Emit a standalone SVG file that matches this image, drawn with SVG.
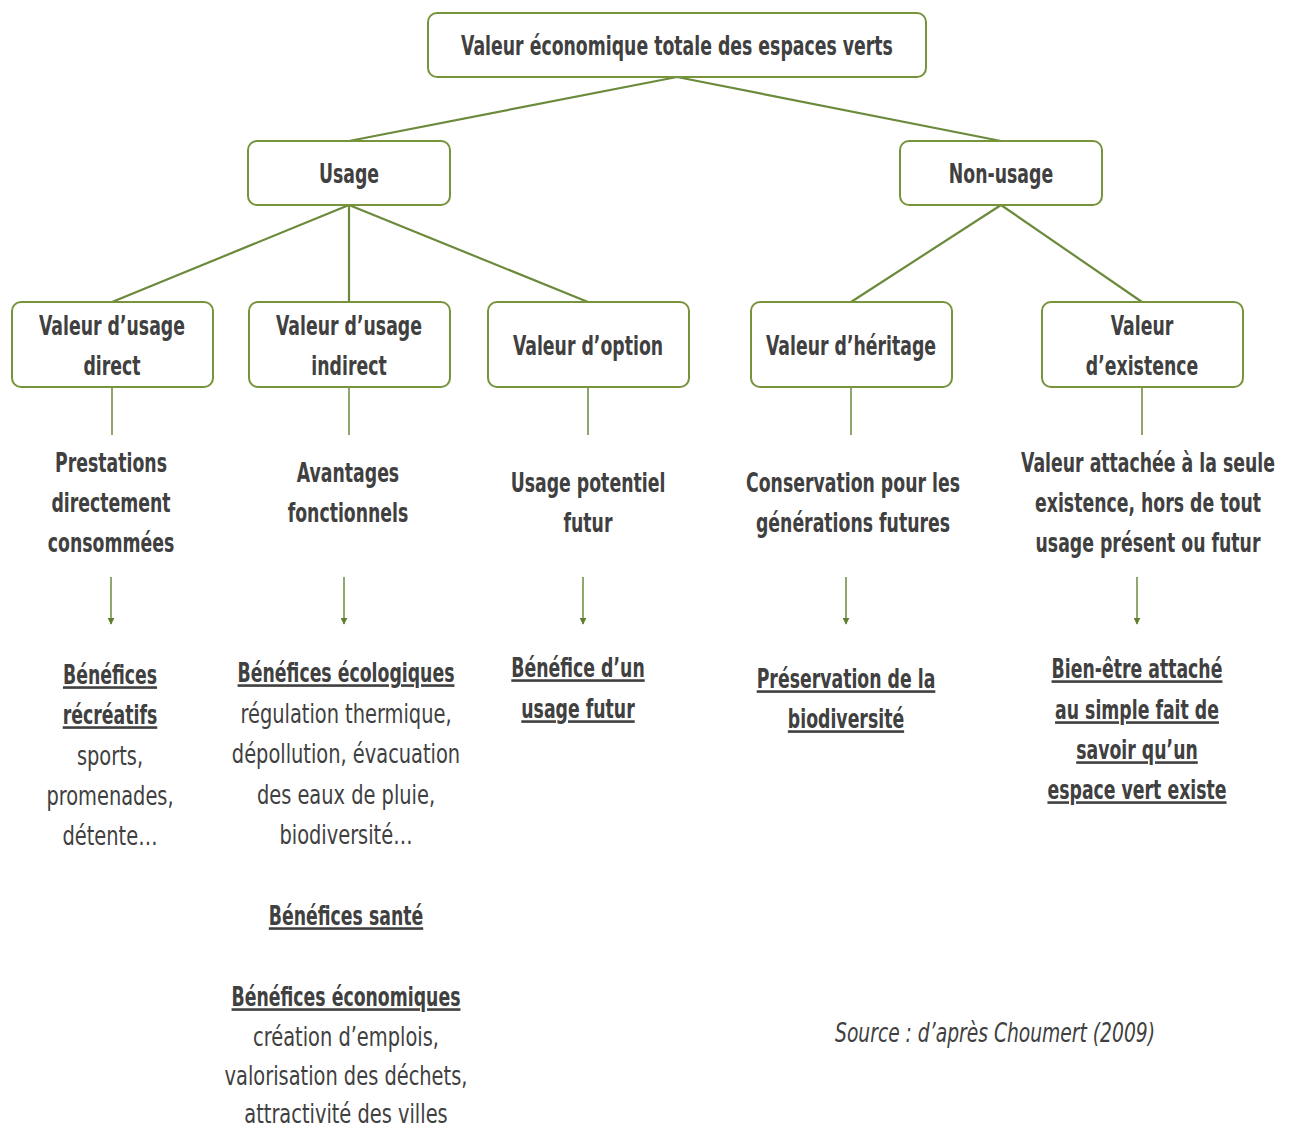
<svg xmlns="http://www.w3.org/2000/svg" width="1290" height="1130" viewBox="0 0 1290 1130">
<style>
text{font-family:"DejaVu Sans Condensed","Liberation Sans",sans-serif;font-size:26px;fill:#404040;text-anchor:middle}
.b{font-weight:bold}
.u{font-weight:bold;text-decoration:underline}
.i{font-style:italic}
.box{fill:#fff;stroke:#77933c;stroke-width:2}
.ln{stroke:#6b8a3c;stroke-width:2.2;fill:none}
.ar{stroke:#6b8a3c;stroke-width:1.5;fill:none;marker-end:url(#ah)}
</style>
<defs>
<marker id="ah" viewBox="0 0 10 10" refX="9" refY="5" markerWidth="7" markerHeight="7" orient="auto" markerUnits="userSpaceOnUse"><path d="M0,0L10,5L0,10z" fill="#5f7f2f"/></marker>
</defs>
<rect width="1290" height="1130" fill="#fff"/>
<g id="connectors">
<path class="ln" d="M677,77L349,141M677,77L1001,141"/>
<path class="ln" d="M349,205L112,302M349,205L349,302M349,205L588,302"/>
<path class="ln" d="M1001,205L851,302M1001,205L1142,302"/>
<path class="ln" style="stroke-width:1.5" d="M112,387V435M349,387V435M588,387V435M851,387V435M1142,387V435"/>
<path class="ar" d="M111,577V624"/>
<path class="ar" d="M344,577V624"/>
<path class="ar" d="M583,577V624"/>
<path class="ar" d="M846,577V624"/>
<path class="ar" d="M1137,577V624"/>
</g>
<g id="n-total"><rect class="box" x="428" y="13" width="498" height="64" rx="9"/><g transform="translate(677,0)"><text class="b" transform="scale(0.74,1)" y="55">Valeur économique totale des espaces verts</text></g></g>
<g id="n-usage"><rect class="box" x="248" y="141" width="202" height="64" rx="9"/><g transform="translate(349,0)"><text class="b" transform="scale(0.74,1)" y="183">Usage</text></g></g>
<g id="n-nonusage"><rect class="box" x="900" y="141" width="202" height="64" rx="9"/><g transform="translate(1001,0)"><text class="b" transform="scale(0.74,1)" y="183">Non-usage</text></g></g>
<g id="n-direct"><rect class="box" x="12" y="302" width="201" height="85" rx="9"/><g transform="translate(112,0)"><text class="b" transform="scale(0.74,1)" y="335">Valeur d’usage</text><text class="b" transform="scale(0.74,1)" y="375">direct</text></g></g>
<g id="n-indirect"><rect class="box" x="249" y="302" width="201" height="85" rx="9"/><g transform="translate(349,0)"><text class="b" transform="scale(0.74,1)" y="335">Valeur d’usage</text><text class="b" transform="scale(0.74,1)" y="375">indirect</text></g></g>
<g id="n-option"><rect class="box" x="488" y="302" width="201" height="85" rx="9"/><g transform="translate(588,0)"><text class="b" transform="scale(0.74,1)" y="355">Valeur d’option</text></g></g>
<g id="n-heritage"><rect class="box" x="751" y="302" width="201" height="85" rx="9"/><g transform="translate(851,0)"><text class="b" transform="scale(0.74,1)" y="355">Valeur d’héritage</text></g></g>
<g id="n-existence"><rect class="box" x="1042" y="302" width="201" height="85" rx="9"/><g transform="translate(1142,0)"><text class="b" transform="scale(0.74,1)" y="335">Valeur</text><text class="b" transform="scale(0.74,1)" y="375">d’existence</text></g></g>
<g id="d-direct" transform="translate(111,0)"><text class="b" transform="scale(0.74,1)" y="472">Prestations</text><text class="b" transform="scale(0.74,1)" y="512">directement</text><text class="b" transform="scale(0.74,1)" y="552">consommées</text></g>
<g id="d-indirect" transform="translate(348,0)"><text class="b" transform="scale(0.74,1)" y="482">Avantages</text><text class="b" transform="scale(0.74,1)" y="522">fonctionnels</text></g>
<g id="d-option" transform="translate(588,0)"><text class="b" transform="scale(0.74,1)" y="492">Usage potentiel</text><text class="b" transform="scale(0.74,1)" y="532">futur</text></g>
<g id="d-heritage" transform="translate(853,0)"><text class="b" transform="scale(0.74,1)" y="492">Conservation pour les</text><text class="b" transform="scale(0.74,1)" y="532">générations futures</text></g>
<g id="d-existence" transform="translate(1148,0)"><text class="b" transform="scale(0.74,1)" y="472">Valeur attachée à la seule</text><text class="b" transform="scale(0.74,1)" y="512">existence, hors de tout</text><text class="b" transform="scale(0.74,1)" y="552">usage présent ou futur</text></g>
<g id="r-direct" transform="translate(110,0)"><text class="u" transform="scale(0.74,1)" y="684">Bénéfices</text><text class="u" transform="scale(0.74,1)" y="724">récréatifs</text><text transform="scale(0.83,1)" y="765">sports,</text><text transform="scale(0.83,1)" y="805">promenades,</text><text transform="scale(0.83,1)" y="845">détente…</text></g>
<g id="r-indirect" transform="translate(346,0)"><text class="u" transform="scale(0.74,1)" y="682">Bénéfices écologiques</text><text transform="scale(0.83,1)" y="723">régulation thermique,</text><text transform="scale(0.83,1)" y="763">dépollution, évacuation</text><text transform="scale(0.83,1)" y="804">des eaux de pluie,</text><text transform="scale(0.83,1)" y="844">biodiversité…</text><text class="u" transform="scale(0.74,1)" y="925">Bénéfices santé</text><text class="u" transform="scale(0.74,1)" y="1006">Bénéfices économiques</text><text transform="scale(0.83,1)" y="1046">création d’emplois,</text><text transform="scale(0.83,1)" y="1085">valorisation des déchets,</text><text transform="scale(0.83,1)" y="1123">attractivité des villes</text></g>
<g id="r-option" transform="translate(578,0)"><text class="u" transform="scale(0.74,1)" y="677">Bénéfice d’un</text><text class="u" transform="scale(0.74,1)" y="718">usage futur</text></g>
<g id="r-heritage" transform="translate(846,0)"><text class="u" transform="scale(0.74,1)" y="688">Préservation de la</text><text class="u" transform="scale(0.74,1)" y="728">biodiversité</text></g>
<g id="r-existence" transform="translate(1137,0)"><text class="u" transform="scale(0.74,1)" y="678">Bien-être attaché</text><text class="u" transform="scale(0.74,1)" y="719">au simple fait de</text><text class="u" transform="scale(0.74,1)" y="759">savoir qu’un</text><text class="u" transform="scale(0.74,1)" y="799">espace vert existe</text></g>
<g id="source" transform="translate(995,0)"><text class="i" transform="scale(0.8,1)" y="1042">Source : d’après Choumert (2009)</text></g>
</svg>
